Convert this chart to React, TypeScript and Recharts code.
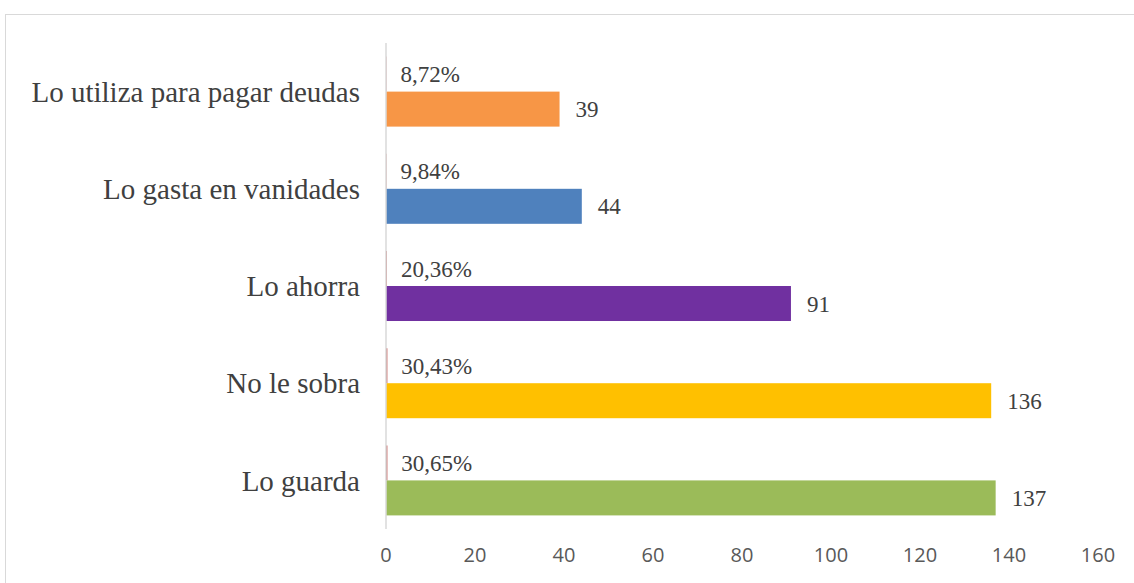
import { Bar, BarChart, LabelList, XAxis, YAxis } from 'recharts'

const categories = [
  'Lo utiliza para pagar deudas',
  'Lo gasta en vanidades',
  'Lo ahorra',
  'No le sobra',
  'Lo guarda',
]
const counts = [39, 44, 91, 136, 137]
const shares = [0.0872, 0.0984, 0.2036, 0.3043, 0.3065]
const colors = ['#F79646', '#4F81BD', '#7030A0', '#FFC000', '#9BBB59']
const xTicks = [0, 20, 40, 60, 80, 100, 120, 140, 160]

const data = categories.map((name, i) => ({
  name,
  count: counts[i],
  share: shares[i],
  color: colors[i],
}))

const serif = '"Liberation Serif", "Times New Roman", serif'

const pct = (v: unknown) => `${(Number(v) * 100).toFixed(2).replace('.', ',')}%`

export default function App() {
  return (
    <div style={{ position: 'absolute', left: 0, top: 0, width: 1134, height: 583, overflow: 'hidden', background: '#fff' }}>
      <div
        style={{
          position: 'absolute',
          left: 5,
          top: 14,
          width: 1140,
          height: 580,
          border: '1px solid #d9d9d9',
        }}
      />
      <BarChart
        width={1134}
        height={583}
        data={data}
        layout="vertical"
        barCategoryGap="14%"
        barGap={0}
        margin={{ top: 43, right: 36, bottom: 24, left: 0 }}
        style={{ position: 'absolute', left: 0, top: 0 }}
      >
        <XAxis
          type="number"
          domain={[0, 160]}
          ticks={xTicks}
          axisLine={false}
          tickLine={false}
          tickSize={0}
          tickMargin={19}
          height={30}
          tick={{ fill: '#595959', fontSize: 20, fontFamily: '"Open Sans", sans-serif' }}
        />
        <YAxis
          type="category"
          dataKey="name"
          width={386}
          axisLine={{ stroke: '#d9d9d9', strokeWidth: 1.5 }}
          tickLine={false}
          tickSize={0}
          tickMargin={26}
          tick={{ fill: '#404040', fontSize: 29, fontFamily: serif }}
        />
        <Bar dataKey="share" fill="#C0504D" isAnimationActive={false}>
          <LabelList
            dataKey="share"
            position="right"
            offset={14}
            formatter={pct}
            style={{ fill: '#404040', fontSize: 23, fontFamily: serif }}
          />
        </Bar>
        <Bar dataKey="count" isAnimationActive={false} shape={(p: any) => (
          <rect x={p.x} y={p.y} width={p.width} height={p.height} fill={p.payload.color} />
        )}>
          <LabelList
            dataKey="count"
            position="right"
            offset={16}
            style={{ fill: '#404040', fontSize: 23, fontFamily: serif }}
          />
        </Bar>
      </BarChart>
    </div>
  )
}
